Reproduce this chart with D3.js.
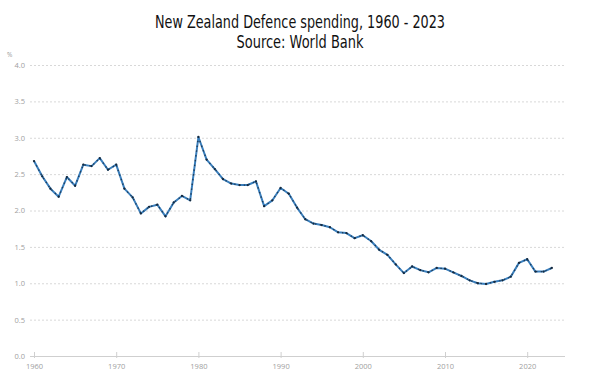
<!DOCTYPE html>
<html>
<head>
<meta charset="utf-8">
<script src="https://cdn.jsdelivr.net/npm/d3@7"></script>
<style>
  html, body { margin: 0; padding: 0; background: #fff; }
  svg { display: block; }
</style>
</head>
<body>
<svg id="chart" width="600" height="386"></svg>
<script>
const titleLines = ["New Zealand Defence spending, 1960 - 2023", "Source: World Bank"];
const years = d3.range(1960, 2024);
const values = [
  2.68, 2.47, 2.30, 2.19, 2.46, 2.34, 2.63, 2.61, 2.72, 2.56,
  2.63, 2.30, 2.18, 1.96, 2.05, 2.08, 1.92, 2.11, 2.20, 2.14,
  3.01, 2.70, 2.57, 2.43, 2.37, 2.35, 2.35, 2.40, 2.06, 2.14,
  2.31, 2.23, 2.04, 1.88, 1.82, 1.80, 1.77, 1.70, 1.69, 1.62,
  1.66, 1.58, 1.46, 1.39, 1.26, 1.14, 1.23, 1.18, 1.15, 1.21,
  1.20, 1.15, 1.10, 1.04, 1.00, 0.99, 1.02, 1.04, 1.09, 1.28,
  1.33, 1.16, 1.16, 1.21
];
const yTicks = [0, 0.5, 1.0, 1.5, 2.0, 2.5, 3.0, 3.5, 4.0];
const xTicks = [1960, 1970, 1980, 1990, 2000, 2010, 2020];
const yUnit = "%";

const data = years.map((y, i) => ({ year: y, value: values[i] }));
const svg = d3.select("#chart");

const x = d3.scaleLinear().domain([1960, 2024.6]).range([34, 565]);
const y = d3.scaleLinear().domain([0, 4]).range([356, 65]);

// Title (condensed look)
const titleWidths = [290, 127];
svg.append("g").selectAll("text").data(titleLines).join("text")
  .attr("x", 300).attr("y", (d, i) => 28 + i * 20)
  .attr("text-anchor", "middle")
  .attr("font-family", "'Liberation Sans Narrow', 'DejaVu Sans', sans-serif")
  .attr("font-size", 17)
  .attr("font-weight", 500)
  .attr("fill", "#111")
  .attr("textLength", (d, i) => titleWidths[i])
  .attr("lengthAdjust", "spacingAndGlyphs")
  .text(d => d);

// Grid
const gy = svg.append("g")
  .attr("transform", "translate(30,0)")
  .call(d3.axisLeft(y).tickValues(yTicks).tickFormat(d3.format(".1f")).tickSize(0).tickPadding(5));
gy.select(".domain").remove();
gy.selectAll(".tick text")
  .attr("font-family", "'Open Sans', 'DejaVu Sans', sans-serif")
  .attr("font-size", 7.5).attr("fill", "#a0a0a0");
gy.selectAll(".tick").filter(d => d !== 0).append("line")
  .attr("x1", 0).attr("x2", 535)
  .attr("stroke", "#d8d8d8").attr("stroke-width", 1)
  .attr("stroke-dasharray", "2,2");

svg.append("text")
  .attr("x", 7).attr("y", 57)
  .attr("font-family", "'Open Sans', 'DejaVu Sans', sans-serif")
  .attr("font-size", 6.5).attr("fill", "#9a9a9a")
  .text(yUnit);

// X axis
const gx = svg.append("g")
  .attr("transform", "translate(0,356)")
  .call(d3.axisBottom(x).tickValues(xTicks).tickFormat(d3.format("d")).tickSize(4).tickSizeOuter(0).tickPadding(4));
gx.select(".domain").attr("stroke", "#cfcfcf").attr("d", "M30,0.5H565");
gx.selectAll(".tick line").attr("stroke", "#cfcfcf").attr("y1", -4).attr("y2", 2);
gx.selectAll(".tick text")
  .attr("font-family", "'Open Sans', 'DejaVu Sans', sans-serif")
  .attr("font-size", 7.5).attr("fill", "#a0a0a0");

// Line
const line = d3.line().x(d => x(d.year)).y(d => y(d.value));
svg.append("path").datum(data)
  .attr("fill", "none").attr("stroke", "#3a7fbd").attr("stroke-width", 2)
  .attr("stroke-linejoin", "round").attr("d", line);
svg.append("path").datum(data)
  .attr("fill", "none").attr("stroke", "#1d3a56").attr("stroke-width", 1.3)
  .attr("stroke-dasharray", "1.4,3.4").attr("d", line);
svg.append("g").selectAll("circle").data(data).join("circle")
  .attr("cx", d => x(d.year)).attr("cy", d => y(d.value))
  .attr("r", 1.15).attr("fill", "#15293d");
</script>
</body>
</html>
